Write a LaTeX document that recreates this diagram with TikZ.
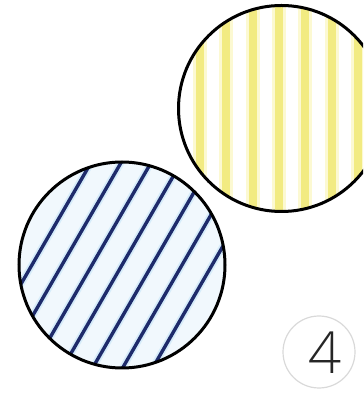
\documentclass[tikz,border=0pt]{standalone}
\usepackage{fontspec}
\setmainfont{Liberation Sans}
\IfFontExistsTF{Open Sans Light}
  {\newfontfamily\fonteNumero{Open Sans Light}}
  {\newfontfamily\fonteNumero{Liberation Sans}}
\definecolor{azulescuro}{HTML}{1E2B6B}
\definecolor{azulclaro}{HTML}{D6ECFA}
\definecolor{azulfundo}{HTML}{F1F8FD}
\definecolor{amarelo}{HTML}{F2EB82}
\definecolor{amareloclaro}{HTML}{FCF9D2}
\begin{document}
\begin{tikzpicture}[x=1pt, y=1pt,
  contorno/.style={draw=black, line width=3pt},
  listra/.style={line width=3.4pt, azulescuro},
  halo/.style={line width=7pt, azulclaro}]
\useasboundingbox (0,0) rectangle (363,395);
\clip (0,0) rectangle (363,395);
% Circulo amarelo com listras verticais
\begin{scope}
\clip (281.5,286.5) circle (103);
\fill[white] (281.5,286.5) circle (103);
\foreach \k in {0,1,...,7} {
  \fill[amareloclaro] ({200+26.3*\k-7},180) rectangle ({200+26.3*\k+7},395);
  \fill[amarelo] ({200+26.3*\k-4},180) rectangle ({200+26.3*\k+4},395);
}
\end{scope}
\draw[contorno] (281.5,286.5) circle (103);
% Circulo azul com listras inclinadas (60 graus)
\begin{scope}
\clip (122,130) circle (103);
\fill[azulfundo] (122,130) circle (103);
\begin{scope}[shift={(122,130)}, rotate=60]
\foreach \k in {-3,...,3} {
  \draw[halo] (-110,{26*\k}) -- (110,{26*\k});
  \draw[listra] (-110,{26*\k}) -- (110,{26*\k});
}
\end{scope}
\end{scope}
\draw[contorno] (122,130) circle (103);
% Numero da figura
\node[circle, draw=black!15, line width=1.2pt, minimum size=72pt] (moldura) at (319,43) {};
\node[font=\fonteNumero\fontsize{58}{58}\selectfont, text=black!85, inner sep=0pt] (numero) at (325,42) {4};
\end{tikzpicture}
\end{document}
